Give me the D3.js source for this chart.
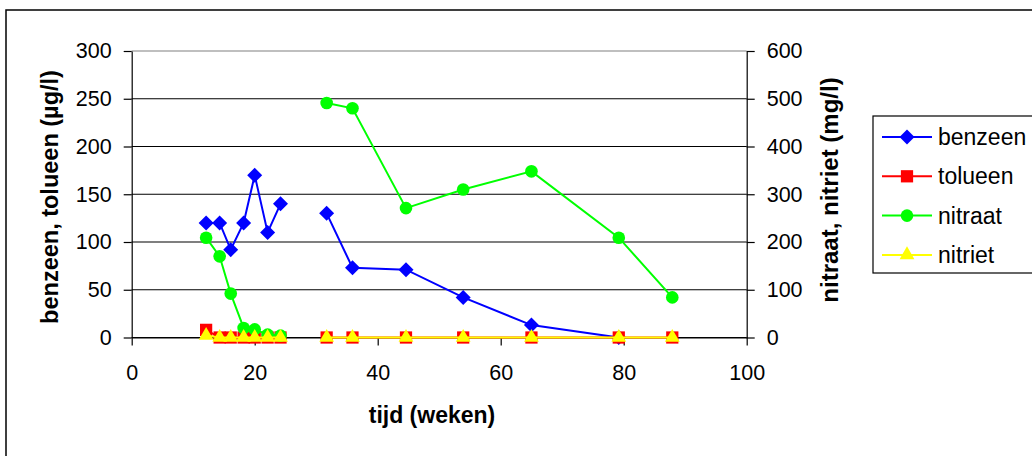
<!DOCTYPE html>
<html>
<head>
<meta charset="utf-8">
<script src="https://cdn.jsdelivr.net/npm/d3@7"></script>
<style>
  body { margin: 0; background: #fff; }
  svg { display: block; font-family: Arial, "Liberation Sans", sans-serif; }
</style>
</head>
<body>
<svg id="chart" width="1032" height="456"></svg>
<script>
// weeks of each sample
var weken = [12.1, 14.3, 16.1, 18.2, 20, 22.1, 24.2, 31.7, 35.9, 44.6, 53.9, 65, 79.2, 87.9];

// left axis (µg/l)
var benzeen = [120, 120, 92, 120, 170, 110, 140, 130, 73, 71, 42, 13, 0, null];
var tolueen = [8, 0, 0, 0, 0, 0, 0, 0, 0, 0, 0, 0, 0, 0];
// right axis (mg/l)
var nitraat = [209, 170, 92, 20, 17, 6, 4, 491, 480, 271, 310, 348, 209, 84];
var nitriet = [4, 0, 0, 0, 0, 0, 0, 0, 0, 0, 0, 0, 0, 0];

var xTicks = [0, 20, 40, 60, 80, 100];
var yLeftTicks = [0, 50, 100, 150, 200, 250, 300];
var yRightTicks = [0, 100, 200, 300, 400, 500, 600];

var series = [
  { name: "benzeen", values: benzeen, axis: "left", color: "#0000ff", marker: "diamond" },
  { name: "tolueen", values: tolueen, axis: "left", color: "#ff0000", marker: "square" },
  { name: "nitraat", values: nitraat, axis: "right", color: "#00ff00", marker: "circle" },
  { name: "nitriet", values: nitriet, axis: "right", color: "#ffff00", marker: "triangle" }
];

var svg = d3.select("#chart");

var plot = { left: 131.7, right: 746.7, top: 51, bottom: 337.5 };

var x = d3.scaleLinear().domain([0, 100]).range([plot.left, plot.right]);
var yL = d3.scaleLinear().domain([0, 300]).range([plot.bottom, plot.top]);
var yR = d3.scaleLinear().domain([0, 600]).range([plot.bottom, plot.top]);

// chart frame
svg.append("rect")
  .attr("x", 6).attr("y", 10)
  .attr("width", 1040).attr("height", 460)
  .attr("fill", "#fff").attr("stroke", "#000").attr("stroke-width", 1.5);

// gridlines
svg.append("g")
  .selectAll("line")
  .data(yLeftTicks)
  .enter().append("line")
  .attr("x1", plot.left).attr("x2", plot.right)
  .attr("y1", function(d) { return yL(d); })
  .attr("y2", function(d) { return yL(d); })
  .attr("stroke", function(d) { return d === 300 ? "#808080" : "#000"; })
  .attr("stroke-width", 1.2);

// axes
function styleAxis(g) {
  g.select(".domain").attr("stroke", "#000").attr("stroke-width", 1.2);
  g.selectAll(".tick line").attr("stroke", "#000").attr("stroke-width", 1.2);
  g.selectAll(".tick text")
    .attr("fill", "#000")
    .attr("font-size", 21.5)
    .attr("font-family", "Arial, 'Liberation Sans', sans-serif");
}

svg.append("g")
  .attr("transform", "translate(0," + plot.bottom + ")")
  .call(d3.axisBottom(x).tickValues(xTicks).tickSize(8).tickSizeOuter(0).tickPadding(19))
  .call(styleAxis);

svg.append("g")
  .attr("transform", "translate(" + plot.left + ",0)")
  .call(d3.axisLeft(yL).tickValues(yLeftTicks).tickSize(8).tickSizeOuter(0).tickPadding(12))
  .call(styleAxis);

svg.append("g")
  .attr("transform", "translate(" + plot.right + ",0)")
  .call(d3.axisRight(yR).tickValues(yRightTicks).tickSize(8).tickSizeOuter(0).tickPadding(12))
  .call(styleAxis);

// axis titles
svg.append("text")
  .attr("x", 432).attr("y", 423)
  .attr("text-anchor", "middle")
  .attr("font-size", 23).attr("font-weight", "bold")
  .text("tijd (weken)");

svg.append("text")
  .attr("transform", "translate(58,197) rotate(-90)")
  .attr("text-anchor", "middle")
  .attr("font-size", 23.5).attr("font-weight", "bold")
  .text("benzeen, tolueen (µg/l)");

svg.append("text")
  .attr("transform", "translate(838,190) rotate(-90)")
  .attr("text-anchor", "middle")
  .attr("font-size", 24).attr("font-weight", "bold")
  .text("nitraat, nitriet (mg/l)");

// marker shapes: Excel style diamond is a square turned 45 degrees
var diamondPath = "M0,-7.5L7.5,0L0,7.5L-7.5,0Z";

function drawMarker(sel, s) {
  if (s.marker === "diamond") {
    sel.attr("d", diamondPath);
  } else if (s.marker === "square") {
    sel.attr("d", d3.symbol().type(d3.symbolSquare).size(150));
  } else if (s.marker === "circle") {
    sel.attr("d", d3.symbol().type(d3.symbolCircle).size(125));
  } else {
    sel.attr("d", d3.symbol().type(d3.symbolTriangle).size(95));
  }
  sel.attr("fill", s.color).attr("stroke", "none");
}

// series
series.forEach(function(s) {
  var yS = s.axis === "left" ? yL : yR;
  var pts = weken.map(function(w, i) { return { x: w, y: s.values[i] }; })
    .filter(function(d) { return d.y !== null; });

  var line = d3.line()
    .x(function(d) { return x(d.x); })
    .y(function(d) { return yS(d.y); });

  // the first run ends after week 24, the second starts at week 31
  var early = pts.filter(function(d) { return d.x < 28; });
  var late = pts.filter(function(d) { return d.x > 28; });

  var g = svg.append("g").attr("class", "series-" + s.name);

  [early, late].forEach(function(part) {
    g.append("path")
      .datum(part)
      .attr("d", line)
      .attr("fill", "none")
      .attr("stroke", s.color)
      .attr("stroke-width", 2);
  });

  g.selectAll("path.mark")
    .data(pts)
    .enter().append("path")
    .attr("class", "mark")
    .attr("transform", function(d) { return "translate(" + x(d.x) + "," + yS(d.y) + ")"; })
    .call(drawMarker, s);
});

// legend
var legend = svg.append("g").attr("transform", "translate(873,116)");

legend.append("rect")
  .attr("x", 0).attr("y", 0)
  .attr("width", 170).attr("height", 157)
  .attr("fill", "#fff").attr("stroke", "#000").attr("stroke-width", 1.2);

var item = legend.selectAll("g.item")
  .data(series)
  .enter().append("g")
  .attr("class", "item")
  .attr("transform", function(d, i) { return "translate(0," + (21 + i * 39.3) + ")"; });

item.append("line")
  .attr("x1", 9).attr("x2", 59)
  .attr("y1", 0).attr("y2", 0)
  .attr("stroke", function(d) { return d.color; })
  .attr("stroke-width", 2);

item.append("path")
  .attr("transform", "translate(34,0)")
  .each(function(d) { d3.select(this).call(drawMarker, d); });

item.append("text")
  .attr("x", 65).attr("y", 8)
  .attr("font-size", 23)
  .text(function(d) { return d.name; });
</script>
</body>
</html>
